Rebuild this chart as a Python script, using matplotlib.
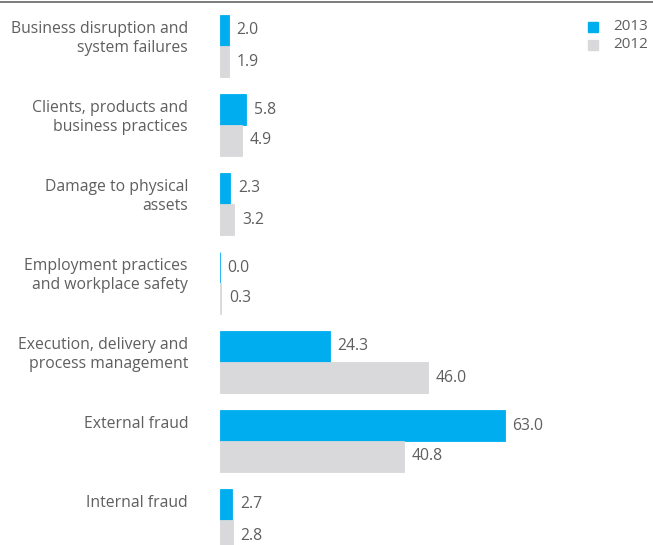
import matplotlib.pyplot as plt
from matplotlib.lines import Line2D
from matplotlib.patches import Rectangle
import numpy as np

categories = [
    "Business disruption and\nsystem failures",
    "Clients, products and\nbusiness practices",
    "Damage to physical\nassets",
    "Employment practices\nand workplace safety",
    "Execution, delivery and\nprocess management",
    "External fraud",
    "Internal fraud",
]
values_2013 = [2.0, 5.8, 2.3, 0.0, 24.3, 63.0, 2.7]
values_2012 = [1.9, 4.9, 3.2, 0.3, 46.0, 40.8, 2.8]
series_names = ["2013", "2012"]

blue = "#00aeef"
grey = "#d9d9db"
text_color = "#5f5f5f"

plt.rcParams["font.family"] = ["Open Sans", "DejaVu Sans"]

fig = plt.figure(figsize=(6.53, 5.45), dpi=100)
ax = fig.add_axes([220 / 653, 0, 433 / 653, 1])

pos = np.arange(len(categories))
h = 31 / 79
ax.barh(pos - h / 2, values_2013, height=h, color=blue,
        edgecolor=blue, linewidth=0.6)
ax.barh(pos + h / 2, values_2012, height=h, color=grey,
        edgecolor=grey, linewidth=0.6)
# the zero bar still shows as a hairline
ax.barh(pos - h / 2, [0.1 if v == 0 else 0 for v in values_2013], height=h,
        color="#aee3f7", linewidth=0)

for i in pos:
    ax.text(values_2013[i] + 1.7, i - h / 2, f"{values_2013[i]:.1f}",
            va="center", ha="left", fontsize=11.3, color=text_color)
    ax.text(values_2012[i] + 1.7, i + h / 2, f"{values_2012[i]:.1f}",
            va="center", ha="left", fontsize=11.3, color=text_color)
    ax.text(-32 / 4.52, i - h + 0.07, categories[i], va="top", ha="right",
            fontsize=11.3, color=text_color, linespacing=1.3,
            clip_on=False)

ax.set_xlim(0, 433 / 4.52)
ax.set_ylim((545 - 46) / 79, -46 / 79)
ax.axis("off")

# legend
fig.add_artist(Rectangle((588 / 653, 1 - 32 / 545), 10 / 653, 10 / 545,
                         transform=fig.transFigure, color=blue))
fig.add_artist(Rectangle((588 / 653, 1 - 50 / 545), 10 / 653, 10 / 545,
                         transform=fig.transFigure, color=grey))
fig.text(613 / 653, 1 - 27 / 545, series_names[0], va="center", ha="left",
         fontsize=11, color=text_color)
fig.text(613 / 653, 1 - 45 / 545, series_names[1], va="center", ha="left",
         fontsize=11, color=text_color)

fig.add_artist(Line2D([0, 1], [1 - 1.5 / 545] * 2, transform=fig.transFigure,
                      color="#666666", linewidth=1.2))

fig.savefig("out.png", dpi=100)
